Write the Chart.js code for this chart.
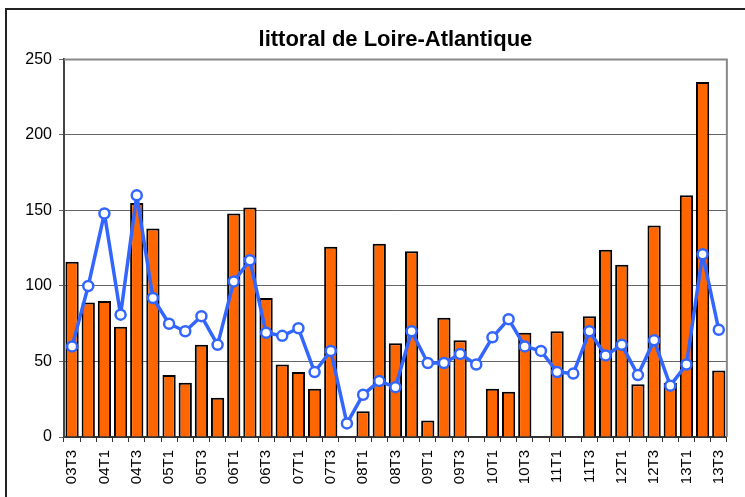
<!DOCTYPE html>
<html>
<head>
<meta charset="utf-8">
<script src="https://cdn.jsdelivr.net/npm/chart.js@4/dist/chart.umd.min.js"></script>
<style>
    html, body { margin: 0; padding: 0; background: #fff; }
    #wrap { width: 745px; height: 497px; position: relative; }
</style>
</head>
<body>
<div id="wrap"><canvas id="chart"></canvas></div>
<script>
const quarters = [
    '03T3', '03T4',
    '04T1', '04T2', '04T3', '04T4',
    '05T1', '05T2', '05T3', '05T4',
    '06T1', '06T2', '06T3', '06T4',
    '07T1', '07T2', '07T3', '07T4',
    '08T1', '08T2', '08T3', '08T4',
    '09T1', '09T2', '09T3', '09T4',
    '10T1', '10T2', '10T3', '10T4',
    '11T1', '11T2', '11T3', '11T4',
    '12T1', '12T2', '12T3', '12T4',
    '13T1', '13T2', '13T3'
];

// orange bars
const barValues = [
    116, 89, 90, 73, 155, 138, 41, 36, 61, 26,
    148, 152, 92, 48, 43, 32, 126, null, 17, 128,
    62, 123, 11, 79, 64, null, 32, 30, 69, null,
    70, null, 80, 124, 114, 35, 140, 36, 160, 235,
    44
];

// blue line
const lineValues = [
    60, 100, 148, 81, 160, 92, 75, 70, 80, 61,
    103, 117, 69, 67, 72, 43, 57, 9, 28, 37,
    33, 70, 49, 49, 55, 48, 66, 78, 60, 57,
    43, 42, 70, 54, 61, 41, 64, 34, 48, 121,
    71
];

const yTicks = [0, 50, 100, 150, 200, 250];

const FONT = '"Liberation Sans", Arial, sans-serif';

const frame = {
    id: 'frame',
    beforeDraw(chart) {
        const c = chart.ctx;
        c.save();
        c.strokeStyle = '#222';
        c.lineWidth = 2;
        c.strokeRect(6, 9, 760, 520);
        c.restore();
    },
    beforeDatasetsDraw(chart) {
        // grey plot area edge, top and right
        const a = chart.chartArea;
        const c = chart.ctx;
        c.save();
        c.strokeStyle = '#888';
        c.lineWidth = 2;
        c.beginPath();
        c.moveTo(a.left, a.top);
        c.lineTo(a.right, a.top);
        c.lineTo(a.right, a.bottom);
        c.stroke();
        c.restore();
    }
};

new Chart(document.getElementById('chart').getContext('2d'), {
    type: 'bar',
    data: {
        labels: quarters,
        datasets: [
            {
                type: 'line',
                data: lineValues,
                borderColor: '#3366ff',
                borderWidth: 3.5,
                borderJoinStyle: 'round',
                tension: 0,
                pointRadius: 5,
                pointBackgroundColor: '#ffffff',
                pointBorderColor: '#3366ff',
                pointBorderWidth: 2.5,
                order: 0
            },
            {
                type: 'bar',
                data: barValues,
                backgroundColor: '#ff6600',
                borderColor: '#000000',
                borderWidth: 2,
                categoryPercentage: 1,
                barPercentage: 0.82,
                order: 1
            }
        ]
    },
    plugins: [frame],
    options: {
        responsive: true,
        maintainAspectRatio: false,
        animation: false,
        layout: { padding: { top: 21, right: 14, left: 0, bottom: 0 } },
        plugins: {
            legend: { display: false },
            tooltip: { enabled: false },
            title: {
                display: true,
                fullSize: false,
                text: 'littoral de Loire-Atlantique',
                color: '#000',
                font: { family: FONT, size: 22, weight: 'bold' },
                padding: { top: 6, bottom: 6 }
            }
        },
        scales: {
            x: {
                offset: true,
                grid: { offset: true, drawOnChartArea: false, tickLength: 5, color: '#333', lineWidth: 1 },
                border: { color: '#333', width: 2 },
                ticks: {
                    autoSkip: false,
                    maxRotation: 90,
                    minRotation: 90,
                    padding: 8,
                    color: '#000',
                    font: { family: FONT, size: 15 },
                    callback: (v, i) => (i % 2 === 0 ? quarters[i] : '')
                },
                afterFit: s => { s.height = 60; }
            },
            y: {
                min: 0,
                max: 250,
                afterBuildTicks: s => { s.ticks = yTicks.map(v => ({ value: v })); },
                grid: { color: '#666', lineWidth: 1, tickLength: 5 },
                border: { color: '#444', width: 2 },
                ticks: {
                    padding: 7,
                    color: '#000',
                    font: { family: FONT, size: 16 }
                },
                afterFit: s => { s.width = 64; }
            }
        }
    }
});
</script>
</body>
</html>
